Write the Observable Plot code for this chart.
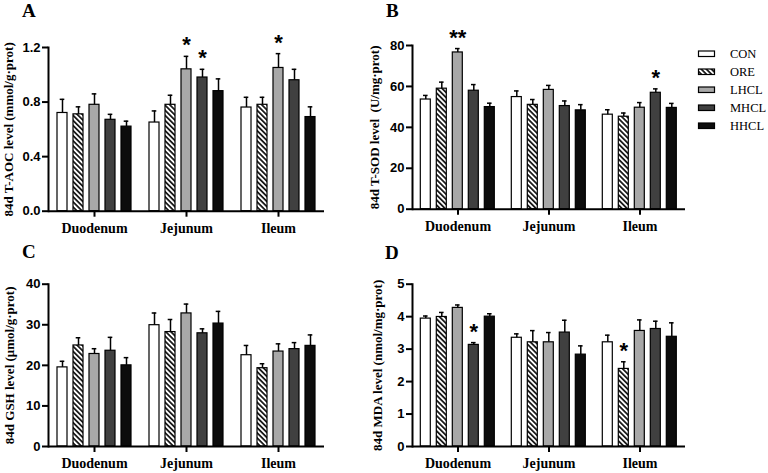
<!DOCTYPE html>
<html>
<head>
<meta charset="utf-8">
<script src="https://cdn.jsdelivr.net/npm/d3@7"></script>
<script src="https://cdn.jsdelivr.net/npm/@observablehq/plot@0.6"></script>
<style>
  body { margin: 0; background: #fff; }
  #chart { position: relative; width: 768px; height: 473px; overflow: hidden; background: #fff; }
  .panel { position: absolute; }
  .letter { position: absolute; font-family: "Liberation Serif", "Times New Roman", serif; font-weight: bold; font-size: 19px; line-height: 1; }
  /* value labels on the left axis */
  .panel g[aria-label="y-axis tick label"] { font-family: "Liberation Sans", Arial, sans-serif; font-weight: bold; font-size: 13px; }
  .panel g[aria-label="fx-axis tick label"] { font-family: "Liberation Serif", "Times New Roman", serif; font-weight: bold; font-size: 14px; }
</style>
</head>
<body>
<svg width="0" height="0" style="position:absolute">
  <defs>
    <pattern id="hatch" patternUnits="userSpaceOnUse" width="3.6" height="3.6" patternTransform="rotate(-45)">
      <rect width="3.6" height="3.6" fill="white"></rect>
      <line x1="1.8" y1="0" x2="1.8" y2="3.6" stroke="black" stroke-width="1.6"></line>
    </pattern>
  </defs>
</svg>
<div id="chart"></div>
<script>
// Intestinal segments and dietary treatment groups
const groups = ["Duodenum", "Jejunum", "Ileum"];
const treatments = ["CON", "ORE", "LHCL", "MHCL", "HHCL"];
const treatmentFills = ["white", "url(#hatch)", "#a8a8a8", "#404040", "#0c0c0c"];

// Means and standard errors, one row per segment (columns follow treatments)
const taocMean = [[0.72, 0.71, 0.78, 0.67, 0.62], [0.65, 0.78, 1.04, 0.98, 0.88], [0.76, 0.78, 1.05, 0.96, 0.69]];
const taocSE   = [[0.10, 0.055, 0.08, 0.04, 0.04], [0.085, 0.07, 0.095, 0.06, 0.09], [0.075, 0.055, 0.105, 0.08, 0.075]];
const sodMean  = [[53.6, 58.9, 76.6, 57.9, 49.9], [54.8, 51.0, 58.3, 50.4, 48.3], [46.2, 45.2, 49.6, 56.9, 49.5]];
const sodSE    = [[2.0, 3.2, 1.9, 3.0, 1.9], [3.0, 2.6, 2.2, 2.5, 2.8], [2.4, 1.8, 2.5, 1.9, 2.2]];
const gshMean  = [[19.5, 24.9, 22.8, 23.6, 20.0], [29.9, 28.2, 32.8, 27.9, 30.3], [22.5, 19.3, 23.4, 24.0, 24.8]];
const gshSE    = [[1.5, 1.9, 1.3, 3.3, 1.9], [3.0, 3.1, 2.3, 1.1, 3.0], [2.4, 1.1, 1.9, 1.6, 2.7]];
const mdaMean  = [[3.94, 3.99, 4.27, 3.13, 4.00], [3.35, 3.21, 3.21, 3.51, 2.83], [3.21, 2.39, 3.56, 3.62, 3.38]];
const mdaSE    = [[0.08, 0.14, 0.09, 0.07, 0.09], [0.12, 0.36, 0.30, 0.38, 0.27], [0.22, 0.22, 0.34, 0.24, 0.43]];

// Significance marks versus CON
const taocStars = [{group: "Jejunum", treatment: "LHCL", mark: "*"}, {group: "Jejunum", treatment: "MHCL", mark: "*"}, {group: "Ileum", treatment: "LHCL", mark: "*"}];
const sodStars  = [{group: "Duodenum", treatment: "LHCL", mark: "**"}, {group: "Ileum", treatment: "MHCL", mark: "*"}];
const gshStars  = [];
const mdaStars  = [{group: "Duodenum", treatment: "MHCL", mark: "*"}, {group: "Ileum", treatment: "ORE", mark: "*"}];

// Axis ticks and titles
const taocTicks = [0, 0.4, 0.8, 1.2];
const sodTicks  = [0, 20, 40, 60, 80];
const gshTicks  = [0, 10, 20, 30, 40];
const mdaTicks  = [0, 1, 2, 3, 4, 5];
const titles = ["84d T-AOC level (mmol/g·prot)", "84d T-SOD level  (U/mg·prot)", "84d GSH level (μmol/g·prot)", "84d MDA level (nmol/mg·prot)"];
const letters = ["A", "B", "C", "D"];

const SANS = "'Liberation Sans', Arial, sans-serif";
const SERIF = "'Liberation Serif', 'Times New Roman', serif";

// Panel placement: box (left, top, width, height) and frame edges in page pixels
const panels = [
  {mean: taocMean, se: taocSE, stars: taocStars, ticks: taocTicks, fmt: d3.format(".1f"), title: titles[0], letter: letters[0],
   left: 0, top: 0, width: 360, height: 240, x0: 47, x1: 325, yTop: 47, yBot: 210.7, titleX: 7, letterX: 22, letterY: 1},
  {mean: sodMean, se: sodSE, stars: sodStars, ticks: sodTicks, fmt: d3.format("d"), title: titles[1], letter: letters[1],
   left: 360, top: 0, width: 408, height: 240, x0: 410.7, x1: 686, yTop: 45, yBot: 208.7, titleX: 373, letterX: 386, letterY: 1},
  {mean: gshMean, se: gshSE, stars: gshStars, ticks: gshTicks, fmt: d3.format("d"), title: titles[2], letter: letters[2],
   left: 0, top: 236, width: 360, height: 237, x0: 47, x1: 325, yTop: 283.7, yBot: 446, titleX: 8, letterX: 22, letterY: 242},
  {mean: mdaMean, se: mdaSE, stars: mdaStars, ticks: mdaTicks, fmt: d3.format("d"), title: titles[3], letter: letters[3],
   left: 360, top: 236, width: 408, height: 237, x0: 410.7, x1: 686, yTop: 283.7, yBot: 446, titleX: 376, letterX: 385, letterY: 243}
];

const chart = document.getElementById("chart");

function drawPanel(p) {
  const rows = [];
  groups.forEach((g, gi) => treatments.forEach((t, ti) =>
    rows.push({group: g, treatment: t, mean: p.mean[gi][ti], se: p.se[gi][ti], top: p.mean[gi][ti] + p.se[gi][ti]})));
  const starRows = p.stars.map(s => ({...rows.find(r => r.group === s.group && r.treatment === s.treatment), mark: s.mark}));
  const yMax = p.ticks[p.ticks.length - 1];

  const svg = Plot.plot({
    width: p.width,
    height: p.height,
    marginLeft: p.x0 - p.left,
    marginRight: p.left + p.width - p.x1,
    marginTop: p.yTop - p.top,
    marginBottom: p.top + p.height - p.yBot,
    style: {background: "transparent", overflow: "visible"},
    fx: {domain: groups, padding: 0, axis: null, label: null},
    x: {domain: treatments, paddingInner: 0.36, paddingOuter: 0.49, axis: null},
    y: {domain: [0, yMax], axis: null},
    color: {domain: treatments, range: treatmentFills},
    marks: [
      Plot.barY(rows, {fx: "group", x: "treatment", y: "mean", fill: "treatment", stroke: "black", strokeWidth: 1.2}),
      Plot.ruleX(rows, {fx: "group", x: "treatment", y1: "mean", y2: "top", stroke: "black", strokeWidth: 1.5}),
      Plot.tickY(rows, {fx: "group", x: "treatment", y: "top", stroke: "black", strokeWidth: 1.5, insetLeft: 2.7, insetRight: 2.7}),
      Plot.ruleY([0], {stroke: "black", strokeWidth: 2}),
      Plot.frame({anchor: "left", facetAnchor: "left", stroke: "black", strokeWidth: 2}),
      Plot.axisY({ticks: p.ticks, tickFormat: p.fmt, tickSize: 6, tickPadding: 2, stroke: "black", strokeWidth: 2,
                  fontFamily: SANS, fontWeight: "bold", fontSize: 13, label: null}),
      Plot.axisFx({anchor: "bottom", tickSize: 6, tickPadding: 6, stroke: "black", strokeWidth: 2,
                   fontFamily: SERIF, fontWeight: "bold", fontSize: 14, label: null}),
      Plot.text(starRows, {fx: "group", x: "treatment", y: "top", text: "mark", dy: -4, lineAnchor: "bottom",
                           fontFamily: SANS, fontWeight: "bold", fontSize: 22}),
      Plot.text([p.title], {frameAnchor: "left", facetAnchor: "left", rotate: -90, dx: p.titleX - p.x0,
                            lineAnchor: "middle", textAnchor: "middle", fontFamily: SERIF, fontWeight: "bold", fontSize: 13})
    ]
  });
  svg.classList.add("panel");
  svg.style.left = p.left + "px";
  svg.style.top = p.top + "px";
  chart.appendChild(svg);

  const letter = document.createElement("div");
  letter.className = "letter";
  letter.textContent = p.letter;
  letter.style.left = p.letterX + "px";
  letter.style.top = p.letterY + "px";
  chart.appendChild(letter);
}

panels.forEach(drawPanel);

// Treatment legend beside panel B
const legend = d3.create("svg").attr("class", "panel").attr("width", 70).attr("height", 100)
  .style("left", "696px").style("top", "42px");
const item = legend.selectAll("g").data(treatments).join("g")
  .attr("transform", (d, i) => `translate(0, ${11.5 + i * 18})`);
item.append("rect").attr("x", 2.5).attr("y", -2.5).attr("width", 16).attr("height", 5.5)
  .attr("fill", (d, i) => treatmentFills[i]).attr("stroke", "black").attr("stroke-width", 1.2);
item.append("text").attr("x", 34).attr("y", 0).attr("dy", "0.35em")
  .attr("font-family", SERIF).attr("font-size", 12.5).text(d => d);
chart.appendChild(legend.node());
</script>
</body>
</html>
